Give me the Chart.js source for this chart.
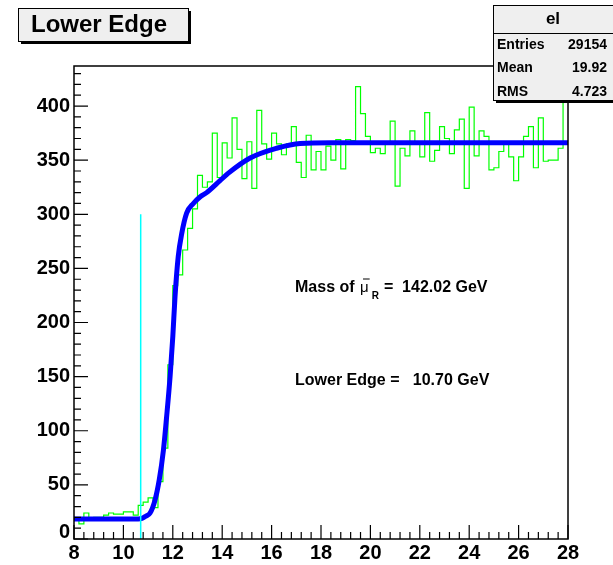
<!DOCTYPE html>
<html>
<head>
<meta charset="utf-8">
<script src="https://cdn.jsdelivr.net/npm/chart.js@4.4.1/dist/chart.umd.min.js"></script>
<style>
  html, body { margin: 0; padding: 0; background: #fff; }
  canvas { display: block; }
</style>
</head>
<body>
<canvas id="chart" width="613" height="565"></canvas>
<script>
// histogram "el": 100 bins from 8 to 28
const binLow = 8;
const binWidth = 0.2;
const counts = [
  18, 14, 24, 19, 20, 20, 22, 24, 23, 23, 25, 25, 22, 31, 34, 38, 29,
  53, 84, 161, 234, 244, 267, 287, 305,
  336, 325, 330, 375, 334,
  366, 352, 389, 360, 333, 367, 324, 396, 365, 351,
  375, 365, 355, 365, 381, 348, 334, 373, 341, 358,
  341, 363, 350, 369, 342, 369, 368, 418, 393, 372,
  357, 361, 356, 366, 386, 326, 361, 354, 377, 367,
  353, 394, 349, 359, 381, 370, 356, 378, 388, 324,
  399, 354, 377, 372, 341, 343, 358, 367, 353, 331,
  353, 372, 381, 343, 389, 349, 350, 350, 361, 420
];

// fitted edge curve
const fitX = [8, 10.6, 10.75, 10.9, 11.08, 11.28, 11.45, 11.62, 11.75, 11.89, 12.0, 12.09,
              12.22, 12.36, 12.56, 12.83, 13.1, 13.37, 13.91, 14.25, 15.13, 16.2, 17.15, 18.4, 28];
const fitY = [18.5, 18.5, 19, 21, 24, 36, 54.5, 82, 113, 150, 187, 224,
              261, 282, 301, 310, 316, 320, 331, 338, 352, 361, 365.5, 366, 366];

// lower edge marker
const edgeX = 10.70;
const edgeTop = 300;

// axes
const xTicks = [8, 10, 12, 14, 16, 18, 20, 22, 24, 26, 28];
const yTicks = [0, 50, 100, 150, 200, 250, 300, 350, 400];
const yMax = 437;

// stats box
const statTitle = 'el';
const statNames = ['Entries', 'Mean', 'RMS'];
const statValues = ['29154', '19.92', '4.723'];

const FONT = '"Liberation Sans", Arial, Helvetica, sans-serif';

// bin edges -> step line points
const histPoints = counts.map((v, i) => ({ x: binLow + i * binWidth, y: v }));
histPoints.push({ x: binLow + counts.length * binWidth, y: counts[counts.length - 1] });

function box(c, x, y, w, h) {
    // ROOT style pave with shadow
    c.fillStyle = '#000';
    c.fillRect(x + 3, y + 3, w, h);
    c.fillStyle = '#efefef';
    c.fillRect(x, y, w, h);
    c.strokeStyle = '#000';
    c.lineWidth = 1;
    c.strokeRect(x + 0.5, y + 0.5, w, h);
}

const rootStyle = {
    id: 'rootStyle',
    beforeDraw(chart) {
        const c = chart.ctx;
        c.save();
        c.fillStyle = '#fff';
        c.fillRect(0, 0, chart.width, chart.height);
        c.restore();
    },
    afterDraw(chart) {
        const c = chart.ctx;
        const a = chart.chartArea;
        const xs = chart.scales.x;
        const ys = chart.scales.y;
        c.save();

        // frame
        c.strokeStyle = '#000';
        c.lineWidth = 1.5;
        c.strokeRect(a.left, a.top, a.right - a.left, a.bottom - a.top);

        // ticks, drawn inside the frame
        c.lineWidth = 1.2;
        c.beginPath();
        xTicks.forEach((v, i) => {
            const px = xs.getPixelForValue(v);
            c.moveTo(px, a.bottom);
            c.lineTo(px, a.bottom - 14);
            if (i < xTicks.length - 1) {
                for (let k = 1; k < 5; k++) {
                    const m = xs.getPixelForValue(v + k * 0.4);
                    c.moveTo(m, a.bottom);
                    c.lineTo(m, a.bottom - 7);
                }
            }
        });
        yTicks.forEach(v => {
            const py = ys.getPixelForValue(v);
            c.moveTo(a.left, py);
            c.lineTo(a.left + 14, py);
            for (let k = 1; k < 5; k++) {
                if (v + k * 10 > yMax) break;
                const m = ys.getPixelForValue(v + k * 10);
                c.moveTo(a.left, m);
                c.lineTo(a.left + 7, m);
            }
        });
        c.stroke();

        // tick labels
        c.fillStyle = '#000';
        c.font = 'bold 20px ' + FONT;
        c.textAlign = 'right';
        c.textBaseline = 'middle';
        yTicks.forEach(v => {
            const py = ys.getPixelForValue(v) - (v === 0 ? 7 : 0);
            c.fillText(String(v), a.left - 4, py);
        });
        c.textAlign = 'center';
        c.textBaseline = 'top';
        xTicks.forEach(v => {
            c.fillText(String(v), xs.getPixelForValue(v), a.bottom + 4);
        });

        // annotations
        c.textAlign = 'left';
        c.textBaseline = 'alphabetic';
        c.font = 'bold 16px ' + FONT;
        let x = 295;
        const y1 = 292;
        c.fillText('Mass of ', x, y1);
        x += c.measureText('Mass of ').width + 1;
        c.font = '15px ' + FONT;
        c.fillText('\u03bc', x, y1);
        const mw = c.measureText('\u03bc').width;
        c.lineWidth = 1;
        c.beginPath();
        c.moveTo(x + 3, y1 - 13);
        c.lineTo(x + mw + 1, y1 - 13);
        c.stroke();
        x += mw + 3;
        c.font = 'bold 10px ' + FONT;
        c.fillText('R', x, y1 + 7);
        x += c.measureText('R').width + 5;
        c.font = 'bold 16px ' + FONT;
        c.fillText('=  142.02 GeV', x, y1);
        c.fillText('Lower Edge =   10.70 GeV', 295, 385);

        // title pave
        box(c, 18, 8, 170, 33);
        c.fillStyle = '#000';
        c.font = 'bold 24px ' + FONT;
        c.textAlign = 'left';
        c.textBaseline = 'middle';
        c.fillText('Lower Edge', 31, 25);

        // stats pave
        box(c, 493, 5, 125, 95);
        c.beginPath();
        c.moveTo(493, 33.5);
        c.lineTo(613, 33.5);
        c.stroke();
        c.fillStyle = '#000';
        c.font = 'bold 17px ' + FONT;
        c.textAlign = 'center';
        c.fillText(statTitle, 553, 19);
        c.font = 'bold 14px ' + FONT;
        statNames.forEach((name, i) => {
            const ty = 45 + i * 23.5;
            c.textAlign = 'left';
            c.fillText(name, 497, ty);
            c.textAlign = 'right';
            c.fillText(statValues[i], 607, ty);
        });

        c.restore();
    }
};

new Chart(document.getElementById('chart').getContext('2d'), {
    type: 'line',
    data: {
        datasets: [
            {
                label: 'edge',
                data: [{ x: edgeX, y: 0 }, { x: edgeX, y: edgeTop }],
                borderColor: '#00ffff',
                borderWidth: 1.5,
                order: 0
            },
            {
                label: 'fit',
                data: fitX.map((x, i) => ({ x: x, y: fitY[i] })),
                borderColor: '#0000ff',
                borderWidth: 5,
                borderJoinStyle: 'round',
                cubicInterpolationMode: 'monotone',
                order: 1
            },
            {
                label: statTitle,
                data: histPoints,
                borderColor: '#00ff00',
                borderWidth: 1.2,
                stepped: true,
                order: 2
            }
        ]
    },
    options: {
        responsive: false,
        animation: false,
        layout: { padding: { left: 74, right: 45, top: 66, bottom: 26 } },
        elements: { point: { radius: 0 } },
        plugins: {
            legend: { display: false },
            tooltip: { enabled: false }
        },
        scales: {
            x: { type: 'linear', min: 8, max: 28, display: false },
            y: { min: 0, max: yMax, display: false }
        }
    },
    plugins: [rootStyle]
});
</script>
</body>
</html>
